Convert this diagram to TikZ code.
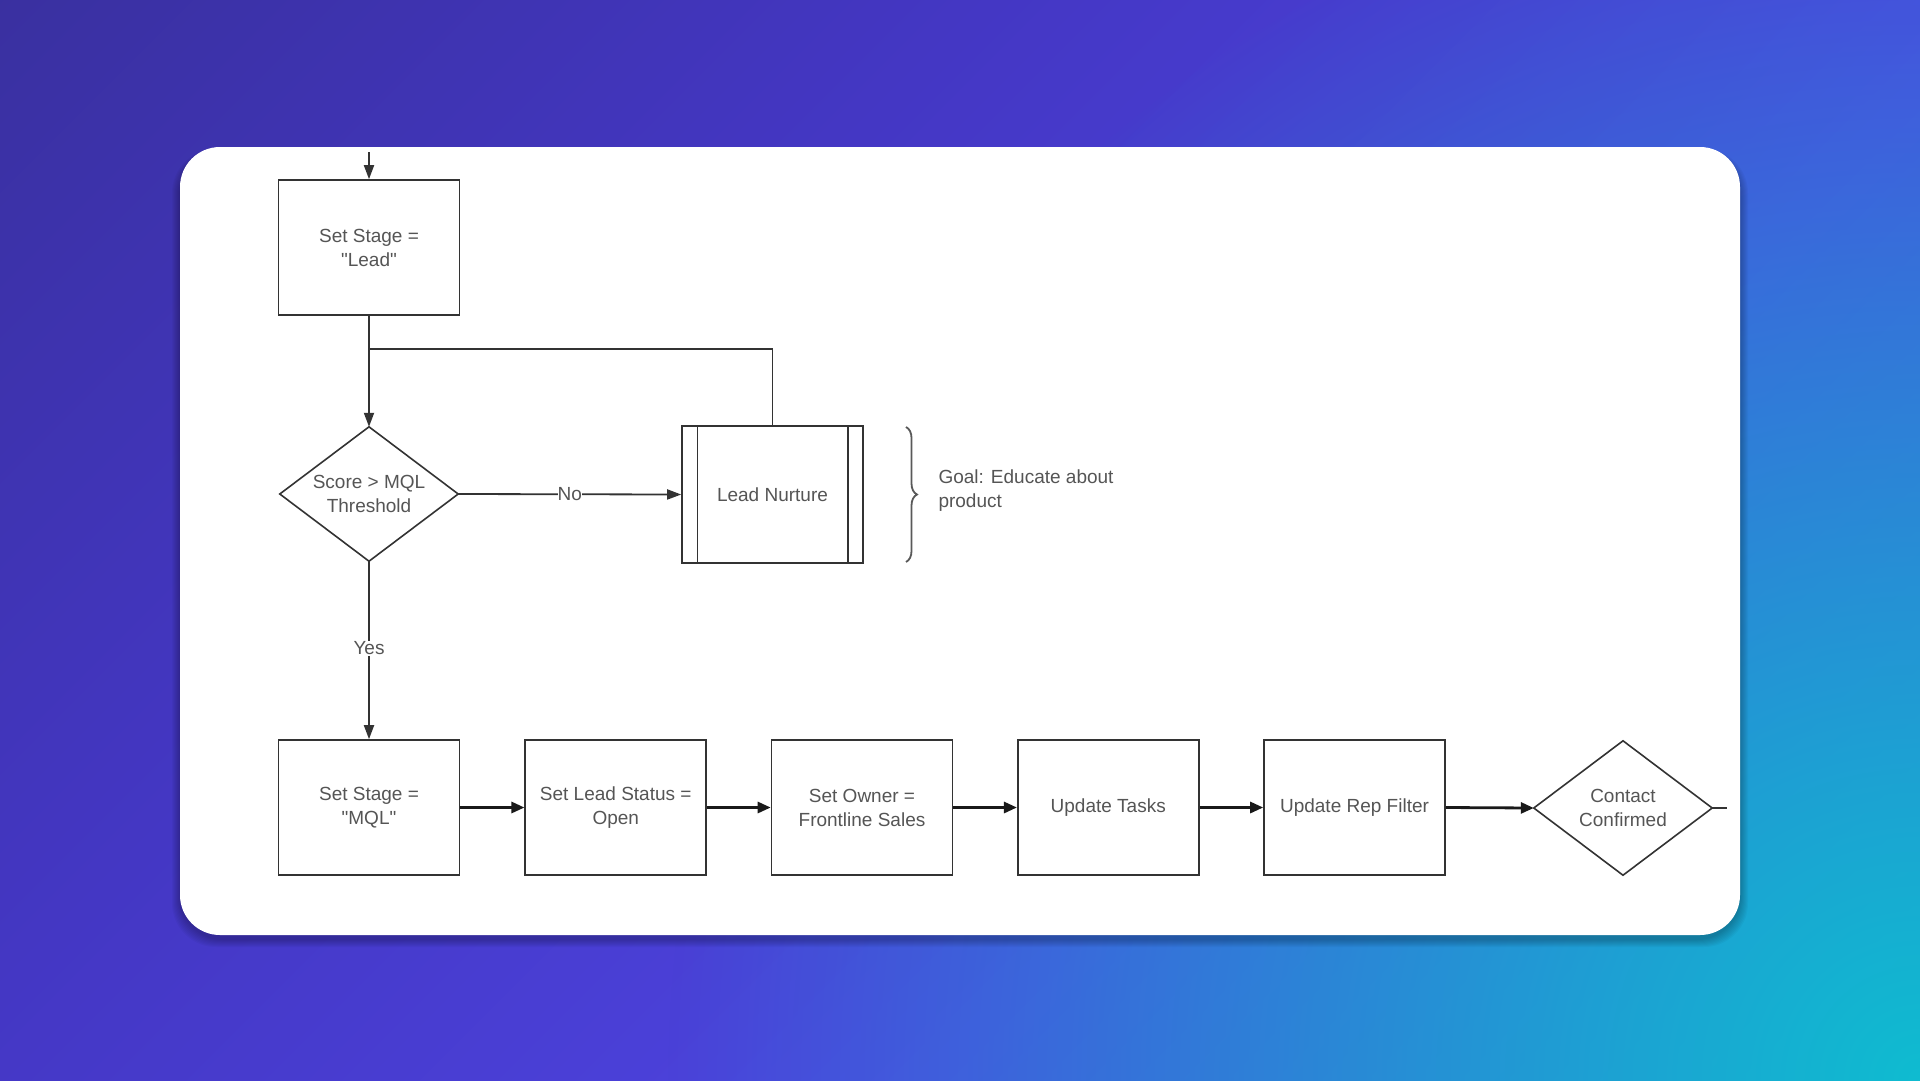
\documentclass[tikz,border=0pt]{standalone}
\usepackage{fontspec}
\setmainfont{Liberation Sans}[Ligatures=TeXOff]
\usetikzlibrary{arrows.meta,calc,decorations.pathreplacing,fadings}
\definecolor{bgA}{HTML}{332C8A}
\definecolor{bgB}{HTML}{4437C4}
\definecolor{bgC}{HTML}{4D44E0}
\definecolor{bgD}{HTML}{4458DA}
\definecolor{bgE}{HTML}{3A6CD8}
\definecolor{glowC}{HTML}{0FBCD0}
\definecolor{lineC}{HTML}{333333}
\definecolor{txtC}{HTML}{555555}
\pgfdeclarehorizontalshading{bgshade}{100bp}{color(0bp)=(bgA); color(38bp)=(bgB); color(62bp)=(bgC); color(84bp)=(bgD); color(100bp)=(bgE)}
\tikzfading[name=glowfade, inner color=transparent!0, outer color=transparent!100]
\tikzset{
  lbl/.style={text=txtC, font=\fontsize{19}{24}\selectfont, align=center},
  box/.style={lbl, draw=lineC, line width=1.6pt, minimum width=181pt, minimum height=135pt, inner sep=0pt},
  dmd/.style={lbl, minimum width=178pt, minimum height=134pt, inner sep=0pt},
  dmdline/.style={draw=lineC, line width=1.6pt, line join=miter},
  conn/.style={draw=lineC, line width=1.8pt},
  arr/.style={conn, -{Triangle[length=14pt,width=10pt]}},
  rowarr/.style={draw=black!90, line width=2.8pt, -{Triangle[length=13pt,width=11pt]}},
  onlbl/.style={lbl, fill=white, inner sep=1pt}
}
\begin{document}
\begin{tikzpicture}[x=1pt,y=-1pt]
\useasboundingbox (0,0) rectangle (1920,1080);
% background
\shade[shading=bgshade, shading angle=-45] (0,0) rectangle (1920,1080);
\fill[glowC, path fading=glowfade] (1920,1080) circle (1250);
% card shadow + card
\foreach \i in {2,4,...,16}
  \fill[black, opacity=0.03, rounded corners=44pt] (180-\i/2,147-\i/4+6) rectangle (1740+\i/2,935+\i/2+4);
\fill[white, rounded corners=40pt] (180,147) rectangle (1740,935);

% top part
\coordinate (top) at (369,152);
\node[box] (lead) at (369,247.5) {Set Stage =\\"Lead"};
\coordinate (j) at (369,349);
\node[dmd] (dq) at (369,494) {Score > MQL\\Threshold};
\draw[dmdline] (dq.north) -- (dq.east) -- (dq.south) -- (dq.west) -- cycle;
\node[box, minimum height=137pt] (ln) at (772.5,494.5) {Lead Nurture};
\draw[conn, line width=1.4pt] ($(ln.north west)+(16,0)$) -- ($(ln.south west)+(16,0)$);
\draw[conn, line width=1.4pt] ($(ln.north east)+(-16,0)$) -- ($(ln.south east)+(-16,0)$);
\draw[decorate, decoration={brace, amplitude=11pt}, draw=black!65, line width=1.8pt]
  (906,427) -- (906,562) coordinate[midway] (bm);
\node[lbl, align=left, anchor=west] (goal) at (935,491) {Goal: Educate about\\product};

\draw[arr] (top) -- (lead.north);
\draw[arr] (lead.south) -- (dq.north);
\draw[conn] (ln.north) |- (j);
\draw[arr] (dq.east) -- node[onlbl, inner sep=0pt] (no) {No} (ln.west);

% bottom row
\node[box] (mql) at (369,807.5) {Set Stage =\\"MQL"};
\node[box] (ls) at (615.75,807.5) {Set Lead Status =\\Open};
\node[box] (ow) at (862,807.5) {Set Owner =\\Frontline Sales};
\node[box] (ut) at (1108.25,807.5) {Update Tasks};
\node[box] (rf) at (1354.5,807.5) {Update Rep Filter};
\node[dmd] (cc) at (1623,808) {Contact\\Confirmed};
\draw[dmdline] (cc.north) -- (cc.east) -- (cc.south) -- (cc.west) -- cycle;
\coordinate (out) at (1727,808);

\draw[arr] (dq.south) -- node[onlbl, pos=0.49] (yes) {Yes} (mql.north);
\draw[rowarr] (mql.east) -- (ls.west);
\draw[rowarr] (ls.east) -- (ow.west);
\draw[rowarr] (ow.east) -- (ut.west);
\draw[rowarr] (ut.east) -- (rf.west);
\draw[rowarr] (rf.east) -- (cc.west);
\draw[conn, line width=2.4pt] (cc.east) -- (out);
\end{tikzpicture}
\end{document}
